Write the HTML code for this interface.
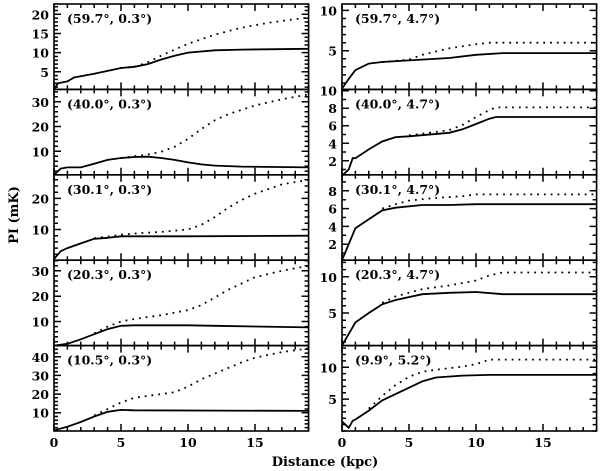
<!DOCTYPE html>
<html><head><meta charset="utf-8"><style>
html,body{margin:0;padding:0;background:#fff;}
svg{display:block;}
text{font-family:"DejaVu Serif","Liberation Serif",serif;font-weight:bold;fill:#000;}
</style></head><body>
<svg id="chart" width="600" height="471" viewBox="0 0 600 471"></svg>
<script>
// Panel labels
const panelLabels = ["(59.7°, 0.3°)","(59.7°, 4.7°)","(40.0°, 0.3°)","(40.0°, 4.7°)","(30.1°, 0.3°)","(30.1°, 4.7°)","(20.3°, 0.3°)","(20.3°, 4.7°)","(10.5°, 0.3°)","(9.9°, 5.2°)"];
// y ranges
const yMins = [0.4,0.2,0.5,0.4,0.1,0.2,0.5,0.5,0.2,0.0];
const yMaxs = [22.7,10.8,35,10.15,27.6,9.8,34.2,12.3,46,13.4];
const yTickVals = [[5,10,15,20],[5,10],[10,20,30],[2,4,6,8,10],[10,20],[2,4,6,8],[10,20,30],[5,10],[10,20,30,40],[5,10]];
const yMinorStep = [1,1,2,1,2,1,2,1,2,1];
const xTicks = [0,5,10,15];
// distance samples for each series
const solidX = [
 [0,0.3,1,1.5,3,5,6,7,8,9,10,12,14,19],
 [0,0.5,1,2,3,5,8,10,12,19],
 [0,0.5,1,2,3,4,5,6,7,8,9,10,11,12,14,19],
 [0,0.5,0.8,1,2,3,4,5,8,9,10,11,11.5,19],
 [0,0.5,1,2,3,4,5,10,19],
 [0,0.5,1,2,3,4,6,8,10,19],
 [0,1,2,3,4,5,6,10,12,19],
 [0,1,2,3,4,6,8,10,12,19],
 [0,1,2,3,4,5,6,19],
 [0,0.5,0.8,1,2,3,5,6,7,9,11,19]
];
const solidY = [
 [0.5,2,2.5,3.5,4.5,6,6.3,7,8.2,9.2,10,10.6,10.8,11],
 [0.3,1.5,2.6,3.4,3.6,3.8,4.1,4.5,4.7,4.7],
 [0.5,3,3.5,3.5,5,6.5,7.3,7.7,7.8,7.3,6.5,5.5,4.7,4.2,3.8,3.5],
 [0.3,1.0,2.3,2.3,3.3,4.2,4.7,4.8,5.2,5.6,6.2,6.8,7,7],
 [0.5,3,4,5.5,7,7.3,7.8,7.8,8],
 [0.2,2,3.8,4.8,5.8,6.1,6.4,6.4,6.5,6.5],
 [0.5,1.2,3,5,7,8.3,8.5,8.5,8.3,7.7],
 [0.5,3.7,5,6.2,6.8,7.6,7.8,7.9,7.6,7.6],
 [0.5,2.5,5,8,10.5,11.5,11.3,11],
 [1.5,0.5,1.6,1.8,3.2,4.8,6.8,7.8,8.4,8.7,8.8,8.8]
];
const dotX = [
 [5,6,7,8,9,10,12,14,16,19],
 [3,5,6,8,10,11,19],
 [5,6,7,8,9,10,11,12,13,15,17,19],
 [5,8,9,10,11,11.5,19],
 [3,4,5,6,8,10,11,12,13,14,15,16,17,19],
 [3,4,5,7,9,10,19],
 [3,4,5,6,8,10,11,12,13,14,15,17,19],
 [3,4,6,8,10,11,12,19],
 [3,4,5,6,8,9,10,11,12,13,14,15,17,19],
 [2,3,4,5,6,7,9,10,11,19]
];
const dotY = [
 [6,6.3,7.5,9.2,10.8,12.3,14.7,16.5,17.8,19.2],
 [3.6,3.9,4.5,5.3,5.8,6,6],
 [7.3,8,8.7,9.8,11.8,15,19,22.5,25,28.5,31,33],
 [4.9,5.5,6.1,7,7.8,8.1,8.1],
 [7.2,7.7,8.3,8.7,9.2,10,11.5,14,17,19.5,21.5,23,24.5,26],
 [6.0,6.5,6.9,7.2,7.4,7.6,7.6],
 [5.3,8,10,11,12.5,14.5,16.5,19.5,22.5,25,27.5,30,32],
 [6.4,7.3,8.3,8.8,9.5,10.2,10.6,10.6],
 [8.5,12,15.5,18,20,21,24,28,31,34,37,39.5,42.5,44.5],
 [3.5,5.5,7.2,8.5,9.3,9.6,10.1,10.5,11.2,11.2]
];

const NS="http://www.w3.org/2000/svg";
const svg=document.getElementById('chart');
function mk(tag,attrs,parent){const e=document.createElementNS(NS,tag);for(const k in attrs)e.setAttribute(k,attrs[k]);(parent||svg).appendChild(e);return e;}
const colX=[54,342], pw=254.6, xMax=19;
const rowTops=[4,89.4,174.8,260.2,345.6], ph=85.4;

for(let i=0;i<10;i++){
  const col=i%2,row=Math.floor(i/2);
  const x0=colX[col], y0=rowTops[row];
  const sx=v=>x0+v/xMax*pw;
  const sy=v=>y0+ph-(v-yMins[i])/(yMaxs[i]-yMins[i])*ph;
  const g=mk('g',{});
  
  
  let dstr='';
  for(let t=0;t<=19;t++){
    const L=(t%5===0)?7:4;
    const x=sx(t).toFixed(1);
    dstr+='M'+x+' '+(y0+ph).toFixed(1)+'V'+(y0+ph-L).toFixed(1);
    dstr+='M'+x+' '+y0.toFixed(1)+'V'+(y0+L).toFixed(1);
  }
  const st=yMinorStep[i];
  for(let v=Math.ceil(yMins[i]/st)*st; v<=yMaxs[i]; v+=st){
    const maj=yTickVals[i].indexOf(v)>=0;
    const L=maj?7:4;
    const y=sy(v).toFixed(1);
    dstr+='M'+x0+' '+y+'H'+(x0+L);
    dstr+='M'+(x0+pw).toFixed(1)+' '+y+'H'+(x0+pw-L).toFixed(1);
  }
  const tk=mk('path',{d:dstr,fill:'none',stroke:'#000','stroke-width':1.5},g);
  
  
  yTickVals[i].forEach(v=>{
    const t=mk('text',{x:x0-5,y:sy(v)+5,'text-anchor':'end','font-size':12.5},g);
    t.textContent=v;
    
    
  });
  const sp=solidX[i].map((x,k)=>sx(x).toFixed(1)+','+sy(solidY[i][k]).toFixed(1)).join(' ');
  const s=mk('polyline',{points:sp,fill:'none',stroke:'#000','stroke-width':1.8},g);
  
  
  const dp=dotX[i].map((x,k)=>sx(x).toFixed(1)+','+sy(dotY[i][k]).toFixed(1)).join(' ');
  const d=mk('polyline',{points:dp,fill:'none',stroke:'#000','stroke-width':1.8,'stroke-dasharray':'1.8 5'},g);
  
  
  mk('rect',{x:x0,y:y0,width:pw,height:ph,fill:'none',stroke:'#000','stroke-width':1.6},g);
  const lab=mk('text',{x:x0+13,y:y0+19,'font-size':12.5},g);
  lab.textContent=panelLabels[i];
  
  
  if(row===4){
    xTicks.forEach(v=>{
      const t=mk('text',{x:sx(v),y:447,'text-anchor':'middle','font-size':12.5},g);
      t.textContent=v;
      
      
    });
  }
}
const xt=mk('text',{x:325,y:466,'text-anchor':'middle','font-size':13});
xt.textContent='Distance (kpc)';


const yt=mk('text',{x:0,y:0,'text-anchor':'middle','font-size':13,transform:'translate(18,215) rotate(-90)'});
yt.textContent='PI (mK)';


</script>
</body></html>
